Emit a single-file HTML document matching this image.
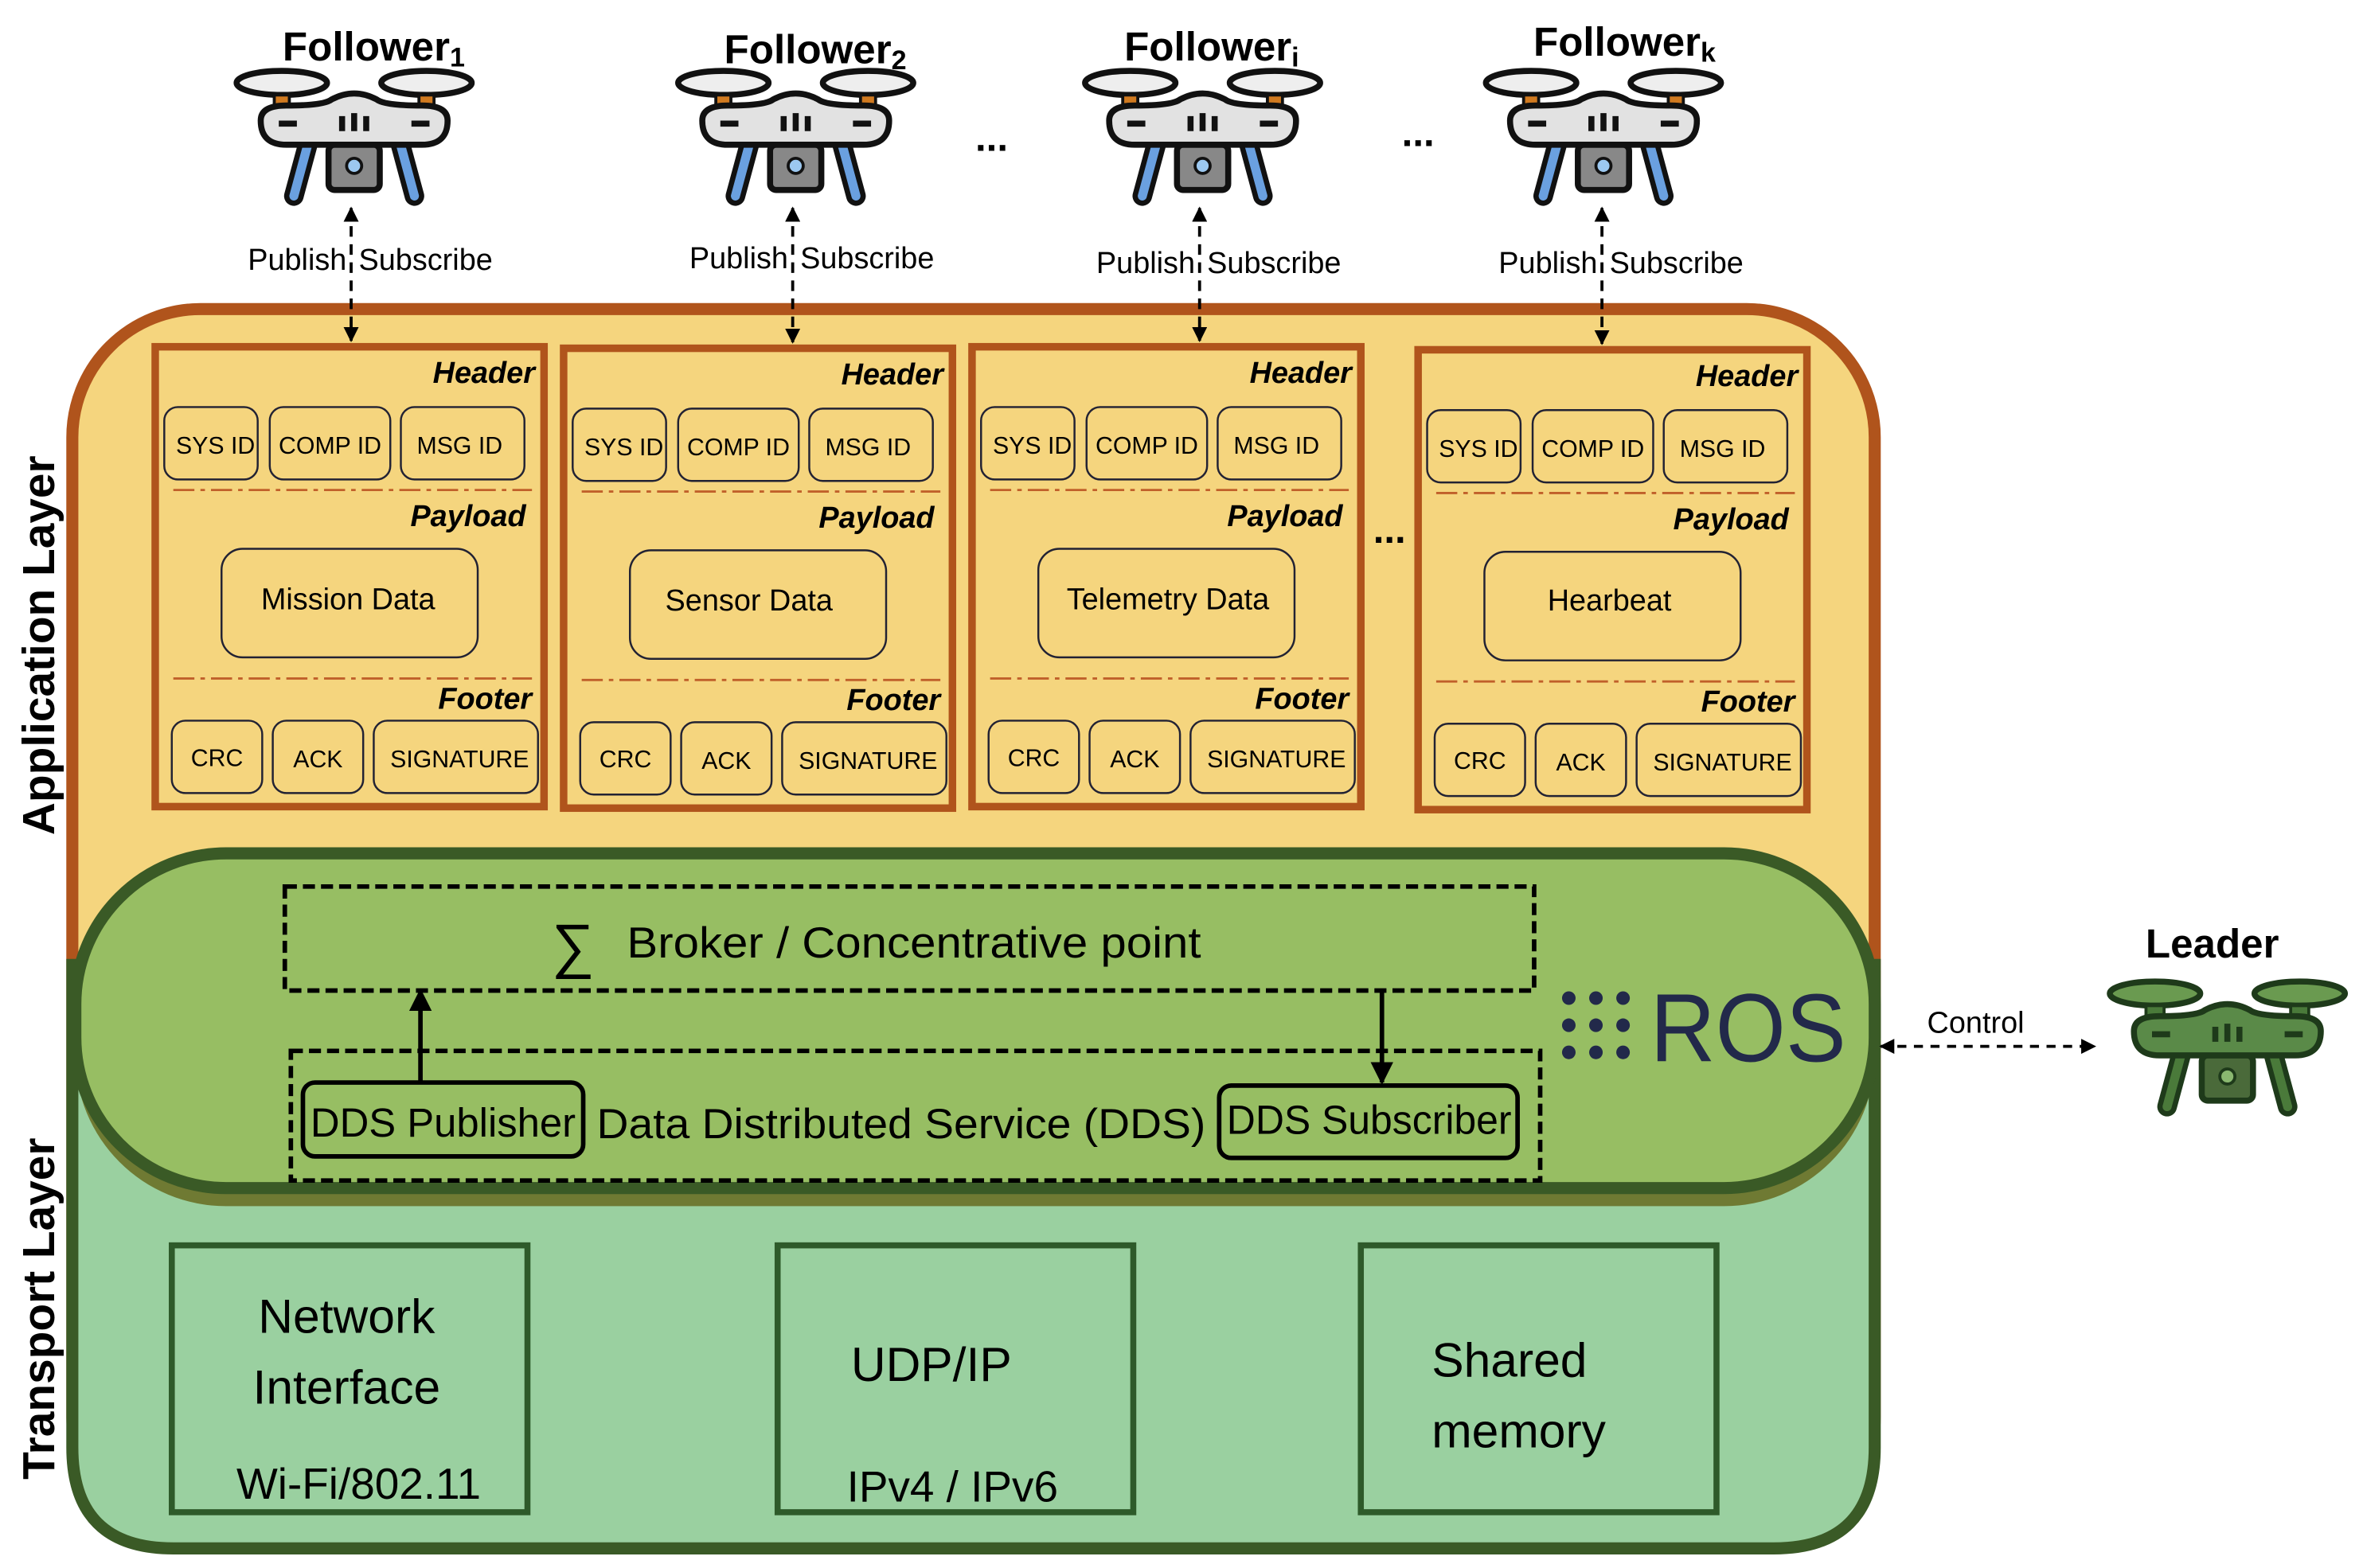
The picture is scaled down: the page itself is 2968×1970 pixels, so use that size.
<!DOCTYPE html>
<html><head><meta charset="utf-8"><style>
html,body{margin:0;padding:0;background:#fff;}
svg{display:block;}
text{font-family:"Liberation Sans",sans-serif;}
</style></head><body>
<svg width="2968" height="1970" viewBox="0 0 1568 1040" preserveAspectRatio="none" xmlns="http://www.w3.org/2000/svg">
<defs>
<marker id="ah" viewBox="0 0 10 10" refX="9" refY="5" markerWidth="5" markerHeight="5" orient="auto-start-reverse"><path d="M0,0 L10,5 L0,10 z" fill="#000"/></marker>
<g id="drone">
  <ellipse cx="-48" cy="-33" rx="30" ry="8" fill="#eee" stroke="#111" stroke-width="4"/>
  <ellipse cx="48" cy="-33" rx="30" ry="8" fill="#eee" stroke="#111" stroke-width="4"/>
  <rect x="-53" y="-25" width="10" height="10" fill="#d07a20" stroke="#111" stroke-width="2"/>
  <rect x="43" y="-25" width="10" height="10" fill="#d07a20" stroke="#111" stroke-width="2"/>
  <rect x="-55" y="-15" width="14" height="10" fill="#6aa0e0" stroke="#111" stroke-width="2"/>
  <rect x="41" y="-15" width="14" height="10" fill="#6aa0e0" stroke="#111" stroke-width="2"/>
  <path d="M-40,42 L-30,5 M40,42 L30,5" stroke="#111" stroke-width="13" stroke-linecap="round"/>
  <path d="M-40,42 L-30,5 M40,42 L30,5" stroke="#6aa0e0" stroke-width="6" stroke-linecap="round"/>
  <rect x="-17" y="8" width="34" height="30" rx="4" fill="#888" stroke="#111" stroke-width="4"/>
  <circle cx="0" cy="22" r="5" fill="#9cc8f0" stroke="#111" stroke-width="2"/>
  <path d="M-62,-8 Q-62,-18 -45,-18 Q-20,-18 -15,-22 Q0,-30 15,-22 Q20,-18 45,-18 Q62,-18 62,-8 Q62,8 45,8 L-45,8 Q-62,8 -62,-8 Z" fill="#e2e2e2" stroke="#111" stroke-width="4"/>
  <path d="M-50,-6 h12 M38,-6 h12 M-8,-11 v10 M0,-13 v12 M8,-11 v10" stroke="#111" stroke-width="4"/>
</g>
<g id="msg">
  <rect x="0" y="0" width="258" height="305" fill="#f5d57e" stroke="#b0541c" stroke-width="5"/>
  <text x="252" y="24" font-size="20" font-style="italic" font-weight="bold" text-anchor="end">Header</text>
  <rect x="6" y="40" width="62" height="48" rx="9" fill="none" stroke="#223" stroke-width="1.3"/>
  <rect x="76" y="40" width="80" height="48" rx="9" fill="none" stroke="#223" stroke-width="1.3"/>
  <rect x="163" y="40" width="82" height="48" rx="9" fill="none" stroke="#223" stroke-width="1.3"/>
  <text x="40" y="71" font-size="16" text-anchor="middle">SYS ID</text>
  <text x="116" y="71" font-size="16" text-anchor="middle">COMP ID</text>
  <text x="202" y="71" font-size="16" text-anchor="middle">MSG ID</text>
  <line x1="12" y1="95" x2="250" y2="95" stroke="#c0602a" stroke-width="1.5" stroke-dasharray="14,4,3,4"/>
  <text x="246" y="119" font-size="20" font-style="italic" font-weight="bold" text-anchor="end">Payload</text>
  <rect x="44" y="134" width="170" height="72" rx="14" fill="none" stroke="#223" stroke-width="1.3"/>
  <line x1="12" y1="220" x2="250" y2="220" stroke="#c0602a" stroke-width="1.5" stroke-dasharray="14,4,3,4"/>
  <text x="250" y="240" font-size="20" font-style="italic" font-weight="bold" text-anchor="end">Footer</text>
  <rect x="11" y="248" width="60" height="48" rx="9" fill="none" stroke="#223" stroke-width="1.3"/>
  <rect x="78" y="248" width="60" height="48" rx="9" fill="none" stroke="#223" stroke-width="1.3"/>
  <rect x="145" y="248" width="109" height="48" rx="9" fill="none" stroke="#223" stroke-width="1.3"/>
  <text x="41" y="278" font-size="16" text-anchor="middle">CRC</text>
  <text x="108" y="279" font-size="16" text-anchor="middle">ACK</text>
  <text x="202" y="279" font-size="16" text-anchor="middle">SIGNATURE</text>
</g>
</defs>

<rect x="48" y="205" width="1196" height="820" rx="85" fill="#f5d57e" stroke="#b0541c" stroke-width="8"/>
<path d="M48,640 L48,960 Q48,1027 115,1027 L1177,1027 Q1244,1027 1244,960 L1244,640 Z" fill="#9ad0a0" stroke="#3a5a26" stroke-width="8"/>
<rect x="50" y="568" width="1194" height="232" rx="100" fill="#6f7a33"/>
<rect x="50" y="566" width="1194" height="222" rx="100" fill="#97be63" stroke="#3a5a26" stroke-width="8"/>

<text transform="translate(36,428) rotate(-90)" font-size="30" font-weight="bold" text-anchor="middle">Application Layer</text>
<text transform="translate(36,868) rotate(-90)" font-size="30" font-weight="bold" text-anchor="middle">Transport Layer</text>

<use href="#msg" x="103" y="230"/>
<use href="#msg" x="374" y="231"/>
<use href="#msg" x="645" y="230"/>
<use href="#msg" x="941" y="232"/>
<text x="231" y="404" font-size="20" text-anchor="middle">Mission Data</text>
<text x="497" y="405" font-size="20" text-anchor="middle">Sensor Data</text>
<text x="775" y="404" font-size="20" text-anchor="middle">Telemetry Data</text>
<text x="1068" y="405" font-size="20" text-anchor="middle">Hearbeat</text>
<text x="922" y="360" font-size="26" font-weight="bold" text-anchor="middle">...</text>

<use href="#drone" x="235" y="88"/>
<use href="#drone" x="528" y="88"/>
<use href="#drone" x="798" y="88"/>
<use href="#drone" x="1064" y="88"/>
<text x="248" y="40" font-size="27" font-weight="bold" text-anchor="middle">Follower<tspan font-size="18" dy="4">1</tspan></text>
<text x="541" y="42" font-size="27" font-weight="bold" text-anchor="middle">Follower<tspan font-size="18" dy="4">2</tspan></text>
<text x="804" y="40" font-size="27" font-weight="bold" text-anchor="middle">Follower<tspan font-size="18" dy="4">i</tspan></text>
<text x="1078" y="37" font-size="27" font-weight="bold" text-anchor="middle">Follower<tspan font-size="18" dy="4">k</tspan></text>
<text x="658" y="100" font-size="26" font-weight="bold" text-anchor="middle">...</text>
<text x="941" y="97" font-size="26" font-weight="bold" text-anchor="middle">...</text>

<g stroke="#000" stroke-width="2" stroke-dasharray="7,5" marker-start="url(#ah)" marker-end="url(#ah)">
<line x1="233" y1="138" x2="233" y2="226"/>
<line x1="526" y1="138" x2="526" y2="227"/>
<line x1="796" y1="138" x2="796" y2="226"/>
<line x1="1063" y1="138" x2="1063" y2="228"/>
</g>
<g font-size="20">
<text x="230" y="179" text-anchor="end">Publish</text><text x="238" y="179">Subscribe</text>
<text x="523" y="178" text-anchor="end">Publish</text><text x="531" y="178">Subscribe</text>
<text x="793" y="181" text-anchor="end">Publish</text><text x="801" y="181">Subscribe</text>
<text x="1060" y="181" text-anchor="end">Publish</text><text x="1068" y="181">Subscribe</text>
</g>

<rect x="189" y="588" width="829" height="69" fill="none" stroke="#000" stroke-width="3" stroke-dasharray="8,4"/>
<text x="366" y="641" font-size="40">∑</text>
<text x="416" y="635" font-size="29" textLength="381" lengthAdjust="spacingAndGlyphs">Broker / Concentrative point</text>
<rect x="193" y="697" width="829" height="86" fill="none" stroke="#000" stroke-width="3" stroke-dasharray="8,4"/>
<rect x="201" y="718" width="186" height="49" rx="8" fill="none" stroke="#000" stroke-width="3"/>
<text x="206" y="754" font-size="27" textLength="176" lengthAdjust="spacingAndGlyphs">DDS Publisher</text>
<text x="396" y="755" font-size="28" textLength="404" lengthAdjust="spacingAndGlyphs">Data Distributed Service (DDS)</text>
<rect x="809" y="720" width="198" height="48" rx="8" fill="none" stroke="#000" stroke-width="3"/>
<text x="814" y="752" font-size="27" textLength="189" lengthAdjust="spacingAndGlyphs">DDS Subscriber</text>
<line x1="279" y1="718" x2="279" y2="657" stroke="#000" stroke-width="3" marker-end="url(#ah)"/>
<line x1="917" y1="657" x2="917" y2="718" stroke="#000" stroke-width="3" marker-end="url(#ah)"/>

<g fill="#22294a">
<circle cx="1041" cy="662" r="4.5"/><circle cx="1059" cy="662" r="4.5"/><circle cx="1077" cy="662" r="4.5"/>
<circle cx="1041" cy="680" r="4.5"/><circle cx="1059" cy="680" r="4.5"/><circle cx="1077" cy="680" r="4.5"/>
<circle cx="1041" cy="698" r="4.5"/><circle cx="1059" cy="698" r="4.5"/><circle cx="1077" cy="698" r="4.5"/>
</g>
<text x="1095" y="704" font-size="64" fill="#22294a" textLength="130" lengthAdjust="spacingAndGlyphs">ROS</text>

<line x1="1248" y1="694" x2="1390" y2="694" stroke="#000" stroke-width="2" stroke-dasharray="6,5" marker-start="url(#ah)" marker-end="url(#ah)"/>
<text x="1311" y="685" font-size="20" text-anchor="middle">Control</text>
<text x="1468" y="635" font-size="27" font-weight="bold" text-anchor="middle">Leader</text>
<g transform="translate(1478,692)">
  <ellipse cx="-48" cy="-33" rx="30" ry="8" fill="#6a9a50" stroke="#1e3a1a" stroke-width="4"/>
  <ellipse cx="48" cy="-33" rx="30" ry="8" fill="#6a9a50" stroke="#1e3a1a" stroke-width="4"/>
  <rect x="-54" y="-25" width="12" height="20" fill="#4a7a3a" stroke="#1e3a1a" stroke-width="2"/>
  <rect x="42" y="-25" width="12" height="20" fill="#4a7a3a" stroke="#1e3a1a" stroke-width="2"/>
  <path d="M-40,42 L-30,5 M40,42 L30,5" stroke="#1e3a1a" stroke-width="13" stroke-linecap="round"/>
  <path d="M-40,42 L-30,5 M40,42 L30,5" stroke="#4a7a3a" stroke-width="6" stroke-linecap="round"/>
  <rect x="-17" y="8" width="34" height="30" rx="4" fill="#4a6a3a" stroke="#1e3a1a" stroke-width="4"/>
  <circle cx="0" cy="22" r="5" fill="#8ab870" stroke="#1e3a1a" stroke-width="2"/>
  <path d="M-62,-8 Q-62,-18 -45,-18 Q-20,-18 -15,-22 Q0,-30 15,-22 Q20,-18 45,-18 Q62,-18 62,-8 Q62,8 45,8 L-45,8 Q-62,8 -62,-8 Z" fill="#5a8a48" stroke="#1e3a1a" stroke-width="4"/>
  <path d="M-50,-6 h12 M38,-6 h12 M-8,-11 v10 M0,-13 v12 M8,-11 v10" stroke="#1e3a1a" stroke-width="4"/>
</g>

<g fill="none" stroke="#2e5a2a" stroke-width="4">
<rect x="114" y="826" width="236" height="177"/>
<rect x="516" y="826" width="236" height="177"/>
<rect x="903" y="826" width="236" height="177"/>
</g>
<g font-size="32">
<text x="230" y="884" text-anchor="middle">Network</text>
<text x="230" y="931" text-anchor="middle">Interface</text>
<text x="238" y="994" text-anchor="middle" font-size="29">Wi-Fi/802.11</text>
<text x="618" y="916" text-anchor="middle">UDP/IP</text>
<text x="632" y="996" text-anchor="middle" font-size="29">IPv4 / IPv6</text>
<text x="950" y="913">Shared</text>
<text x="950" y="960">memory</text>
</g>
</svg>
</body></html>
